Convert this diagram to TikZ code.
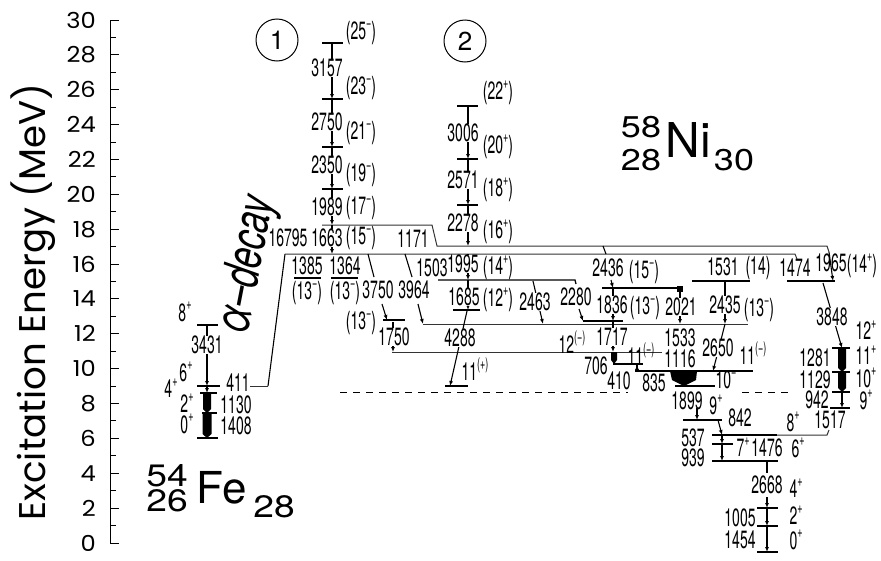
\documentclass[tikz,border=0pt]{standalone}
\usepackage{fontspec}
\setmainfont{TeX Gyre Heros}
\newfontfamily\axfont{Poppins}
\usetikzlibrary{arrows.meta}
\newcommand\nl[1]{\scalebox{0.56}[1]{#1}}
\newcommand\up[1]{\raisebox{0.45em}{\fontsize{16}{16}\selectfont #1}}
\newcommand\thickarr[4]{\fill ({#1-#4/2},#2) -- ({#1+#4/2},#2) -- ({#1+#4/2},{#3-4}) -- (#1,#3) -- ({#1-#4/2},{#3-4}) -- cycle;}
\begin{document}
\begin{tikzpicture}[x=1pt,y=-1pt,
  lev/.style={line width=1.3pt},
  dlev/.style={line width=1pt,black!80},
  tr/.style={line width=1.1pt,-{Latex[length=5pt,width=4pt]}},
  trl/.style={line width=1.1pt},
  lab/.style={font=\fontsize{25}{25}\selectfont,inner sep=0.3pt},
  labw/.style={lab,fill=white},
  tick/.style={line width=1pt}]
\useasboundingbox (0,0) rectangle (881,560);
% axis
\draw[tick] (110,20) -- (110,543);
\foreach \e in {0,2,...,30}{
  \draw[tick] (110,{543-17.433*\e}) -- (119,{543-17.433*\e});
  \node[anchor=east,inner sep=0pt,font=\axfont\fontsize{22}{22}\selectfont] (ax\e) at (96,{543-17.433*\e}) {\scalebox{1.1}[1]{\e}};
}
\foreach \e in {1,3,...,29}{
  \draw[tick] (110,{543-17.433*\e}) -- (116,{543-17.433*\e});
}
\node[rotate=90,inner sep=0pt,font=\axfont\fontsize{40}{40}\selectfont] (ytitle) at (33,302) {\resizebox{437pt}{!}{Excitation Energy (MeV)}};
% circles
\node[draw,circle,line width=1pt,minimum size=42pt,inner sep=0pt,font=\fontsize{26}{26}\selectfont] (c1) at (277,40) {1};
\node[draw,circle,line width=1pt,minimum size=42pt,inner sep=0pt,font=\fontsize{26}{26}\selectfont] (c2) at (465,41) {2};
% nucleus names
\node[inner sep=0pt,font=\fontsize{30}{30}\selectfont] (ni58) at (641,127) {\scalebox{1.2}[1]{58}};
\node[inner sep=0pt,font=\fontsize{30}{30}\selectfont] (ni28) at (641,160) {\scalebox{1.2}[1]{28}};
\node[inner sep=0pt,font=\fontsize{48}{48}\selectfont] (ni) at (688,140) {Ni};
\node[inner sep=0pt,font=\fontsize{30}{30}\selectfont] (ni30) at (734,160) {\scalebox{1.2}[1]{30}};
\node[inner sep=0pt,font=\fontsize{31}{31}\selectfont] (fe54) at (167,476) {\scalebox{1.2}[1]{54}};
\node[inner sep=0pt,font=\fontsize{31}{31}\selectfont] (fe26) at (167,501) {\scalebox{1.2}[1]{26}};
\node[inner sep=0pt,font=\fontsize{44}{44}\selectfont] (fe) at (222,488) {Fe};
\node[inner sep=0pt,font=\fontsize{31}{31}\selectfont] (fe28) at (274,507) {\scalebox{1.2}[1]{28}};
% alpha decay text
\node[rotate=79,inner sep=0pt,font=\itshape\fontsize{50}{50}\selectfont] (alpha) at (248,265) {\scalebox{0.7}[1]{α–decay}};
% ---------- 54Fe ----------
\draw[lev] (197,325) -- (218,325);
\draw[lev] (197,386) -- (220,386);
\draw[lev] (200,393) -- (217,393);
\draw[lev] (202,413) -- (217,413);
\draw[lev] (197,438) -- (218,438);
\draw[tr] (207,325) -- (207,386);
\draw[tr] (207,386) -- (207,393);
\thickarr{207}{393}{413}{8}
\thickarr{207}{413}{438}{9}
\node[labw] (e3431) at (207,345) {\nl{3431}};
\node[lab] (s8fe) at (185,312) {\nl{8\up{+}}};
\node[lab] (s6fe) at (186,372) {\nl{6\up{+}}};
\node[lab] (s4fe) at (171,388) {\nl{4\up{+}}};
\node[lab] (s2fe) at (187,403) {\nl{2\up{+}}};
\node[lab] (s0fe) at (187,424) {\nl{0\up{+}}};
\node[lab] (e411) at (238,383) {\nl{411}};
\node[lab] (e1130) at (236,405) {\nl{1130}};
\node[lab] (e1408) at (236,426) {\nl{1408}};
% alpha line
\draw[dlev] (250,386) -- (268,386);
\draw[line width=1.1pt] (268,386) -- (285,254);
\node[lab] (e16795) at (288,238) {\nl{16795}};
% ---------- long levels ----------
\draw[dlev] (322,225) -- (432,225) -- (437,246) -- (827,246) -- (829,252);
\draw[dlev] (285,254) -- (795,254) -- (797,259);
\draw[dlev] (423,324) -- (748,324);
\draw[dlev] (392,352) -- (662,352);
\draw[line width=1pt,dash pattern=on 7pt off 6pt] (340,392) -- (628,392);
\draw[line width=1pt,dash pattern=on 7pt off 6pt] (742,392) -- (793,392);
% ---------- band 1 ----------
\foreach \yy in {43,99,147,189}{\draw[lev] (322,\yy) -- (343,\yy);}
\draw[tr] (332,43) -- (332,99);
\draw[tr] (332,99) -- (332,147);
\draw[tr] (332,147) -- (332,189);
\draw[tr] (332,189) -- (332,225);
\draw[tr] (332,225) -- (332,254);
\node[labw] (e3157) at (327,68) {\nl{3157}};
\node[labw] (e2750) at (327,122) {\nl{2750}};
\node[labw] (e2350) at (327,165) {\nl{2350}};
\node[labw] (e1989) at (327,207) {\nl{1989}};
\node[labw] (e1663) at (327,238) {\nl{1663}};
\node[lab] (s25) at (361,33) {\nl{(25\up{−})}};
\node[lab] (s23) at (361,88) {\nl{(23\up{−})}};
\node[lab] (s21) at (361,133) {\nl{(21\up{−})}};
\node[lab] (s19) at (361,175) {\nl{(19\up{−})}};
\node[lab] (s17) at (361,208) {\nl{(17\up{−})}};
\node[lab] (s15) at (361,238) {\nl{(15\up{−})}};
\node[lab] (e1171) at (413,239) {\nl{1171}};
% 13- levels
\draw[lev] (294,278) -- (321,278);
\draw[lev] (331,278) -- (358,278);
\node[lab] (e1385) at (307,266) {\nl{1385}};
\node[lab] (e1364) at (345,266) {\nl{1364}};
\node[lab] (s13a) at (307,293) {\nl{(13\up{−})}};
\node[lab] (s13b) at (345,293) {\nl{(13\up{−})}};
\node[lab] (s13c) at (361,323) {\nl{(13\up{−})}};
\draw[lev] (383,320) -- (405,320);
\draw[trl] (368,254) -- (374,277);
\draw[tr] (382,304) -- (387,320);
\node[lab] (e3750) at (378,290) {\nl{3750}};
\draw[tr] (393,322) -- (393,352);
\node[labw] (e1750) at (394,337) {\nl{1750}};
\draw[trl] (405,254) -- (412,277);
\draw[tr] (418,304) -- (423,324);
\node[lab] (e3964) at (414,290) {\nl{3964}};
% ---------- band 2 ----------
\foreach \yy in {106,159,205}{\draw[lev] (457,\yy) -- (478,\yy);}
\draw[tr] (468,106) -- (468,159);
\draw[tr] (468,159) -- (468,205);
\draw[tr] (468,205) -- (468,246);
\draw[tr] (468,254) -- (468,280);
\draw[tr] (468,280) -- (468,310);
\node[labw] (e3006) at (463,133) {\nl{3006}};
\node[labw] (e2571) at (463,180) {\nl{2571}};
\node[labw] (e2278) at (463,223) {\nl{2278}};
\node[labw] (e1995) at (463,264) {\nl{1995}};
\node[labw] (e1685) at (464,297) {\nl{1685}};
\node[lab] (s22) at (498,93) {\nl{(22\up{+})}};
\node[lab] (s20) at (498,147) {\nl{(20\up{+})}};
\node[lab] (s18) at (498,190) {\nl{(18\up{+})}};
\node[lab] (s16) at (498,232) {\nl{(16\up{+})}};
\node[lab] (s14) at (498,268) {\nl{(14\up{+})}};
\node[lab] (s12) at (498,300) {\nl{(12\up{+})}};
\draw[lev] (438,280) -- (575,280) -- (576,284);
\node[lab] (e1503) at (432,268) {\nl{1503}};
\draw[lev] (453,310) -- (480,310);
\draw[tr] (467,311) -- (450,386);
\node[labw] (e4288) at (460,338) {\nl{4288}};
\draw[lev] (445,386) -- (468,386);
\node[lab] (s11p) at (475,369) {\nl{11\up{(+)}}};
% ---------- middle ----------
\draw[tr] (533,281) -- (543,324);
\node[labw] (e2463) at (535,302) {\nl{2463}};
\node[lab] (e2280) at (576,297) {\nl{2280}};
\draw[tr] (579,309) -- (583,321);
\draw[lev] (583,321) -- (623,321);
\draw[trl] (603,246) -- (606,254);
\draw[tr] (611,280) -- (613,288);
\node[lab] (e2436) at (608,268) {\nl{2436}};
\node[lab] (s15b) at (644,272) {\nl{(15\up{−})}};
\draw[lev] (602,288) -- (680,288);
\fill (677,286) rectangle (683,292);
\draw[tr] (613,288) -- (613,321);
\node[labw] (e1836) at (612,305) {\nl{1836}};
\node[lab] (s13d) at (645,308) {\nl{(13\up{−})}};
\draw[tr] (680,290) -- (680,324);
\node[labw] (e2021) at (681,307) {\nl{2021}};
\draw[tr] (613,321) -- (613,352);
\node[labw] (e1717) at (612,337) {\nl{1717}};
\node[lab] (s12m) at (572,342) {\nl{12\up{(−)}}};
\thickarr{614}{352}{364}{6}
\node[lab] (e706) at (596,366) {\nl{706}};
\node[lab] (e410) at (619,381) {\nl{410}};
\draw[lev] (613,364) -- (643,364);
\node[lab] (s11a) at (641,354) {\nl{11\up{(−)}}};
\draw[line width=1.1pt] (637,364) -- (637,370);
\fill (637,370) circle (2pt);
\draw[lev] (635,371) -- (753,371);
\node[lab] (e1533) at (680,338) {\nl{1533}};
\node[lab] (e1116) at (680,359) {\nl{1116}};
\fill (670,371) -- (697,371) -- (696,380) -- (684,386) -- (672,380) -- cycle;
\draw[lev] (675,386) -- (715,386);
\node[lab] (e835) at (654,383) {\nl{835}};
\node[lab] (s10m) at (726,380) {\nl{10\up{−}}};
\draw[tr] (725,324) -- (713,371);
\node[labw] (e2650) at (718,348) {\nl{2650}};
\node[lab] (s11b) at (753,353) {\nl{11\up{(−)}}};
\draw[lev] (692,281) -- (750,281);
\node[lab] (e1531) at (723,267) {\nl{1531}};
\node[lab] (s14b) at (758,268) {\nl{(14)}};
\draw[tr] (725,281) -- (725,324);
\node[labw] (e2435) at (725,305) {\nl{2435}};
\node[lab] (s13e) at (759,310) {\nl{(13\up{−})}};
% ---------- right band ----------
\node[lab] (e1474) at (795,268) {\nl{1474}};
\node[lab] (e1965) at (831,263) {\nl{1965}};
\node[lab] (s14r) at (862,266) {\nl{(14\up{+})}};
\draw[lev] (787,281) -- (835,281);
\draw[tr] (829,252) -- (833,281);
\draw[tr] (823,283) -- (842,348);
\node[labw] (e3848) at (832,317) {\nl{3848}};
\foreach \yy in {348,372,392}{\draw[lev] (832,\yy) -- (850,\yy);}
\draw[lev] (830,408) -- (850,408);
\thickarr{842}{348}{372}{8}
\thickarr{842}{372}{392}{8}
\draw[tr] (842,392) -- (842,408);
\node[lab] (s12r) at (866,330) {\nl{12\up{+}}};
\node[lab] (s11r) at (866,355) {\nl{11\up{+}}};
\node[lab] (s10r) at (866,378) {\nl{10\up{+}}};
\node[lab] (s9r) at (866,400) {\nl{9\up{+}}};
\node[lab] (e1281) at (815,358) {\nl{1281}};
\node[lab] (e1129) at (815,380) {\nl{1129}};
\node[lab] (e942) at (817,400) {\nl{942}};
\node[lab] (e1517) at (830,420) {\nl{1517}};
% ---------- low part ----------
\draw[tr] (697,408) -- (697,420);
\node[lab] (e1899) at (687,401) {\nl{1899}};
\node[lab] (s9m) at (716,405) {\nl{9\up{+}}};
\draw[lev] (683,420) -- (722,420);
\node[lab] (e842) at (740,418) {\nl{842}};
\draw[tr] (718,420) -- (722,435);
\draw[lev] (712,435) -- (777,435);
\draw[dlev] (777,435) -- (827,435) -- (829,430);
\node[lab] (s8m) at (793,422) {\nl{8\up{+}}};
\draw[tr] (722,435) -- (722,444);
\draw[tr] (722,444) -- (722,461);
\draw[lev] (712,444) -- (733,444);
\node[lab] (s7m) at (743,447) {\nl{7\up{+}}};
\node[lab] (e537) at (693,438) {\nl{537}};
\node[lab] (e939) at (693,458) {\nl{939}};
\draw[lev] (712,461) -- (778,461);
\node[lab] (e1476) at (767,448) {\nl{1476}};
\node[lab] (s6m) at (798,448) {\nl{6\up{+}}};
\draw[line width=1.8pt] (767,461) -- (767,473);
\node[lab] (e2668) at (767,485) {\nl{2668}};
\draw[tr] (767,497) -- (767,508);
\foreach \yy in {508,526,552}{\draw[lev] (757,\yy) -- (778,\yy);}
\draw[tr] (767,508) -- (767,526);
\draw[tr] (767,526) -- (767,552);
\node[lab] (s4m) at (796,488) {\nl{4\up{+}}};
\node[lab] (s2m) at (796,515) {\nl{2\up{+}}};
\node[lab] (s0m) at (796,540) {\nl{0\up{+}}};
\node[lab] (e1005) at (740,518) {\nl{1005}};
\node[lab] (e1454) at (740,540) {\nl{1454}};
\end{tikzpicture}
\end{document}
